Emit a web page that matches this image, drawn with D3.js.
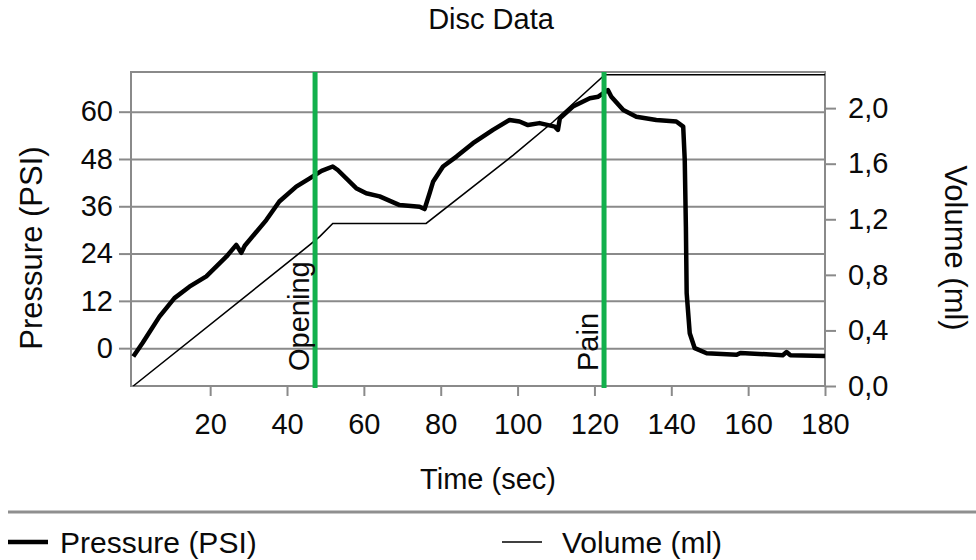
<!DOCTYPE html>
<html>
<head>
<meta charset="utf-8">
<script src="https://cdn.jsdelivr.net/npm/d3@7"></script>
<style>
  body { margin: 0; background: #fff; }
  text { font-family: "Liberation Sans", Arial, sans-serif; fill: #0a0a0a; }
</style>
</head>
<body>
<script>
var width = 976,
    height = 560;

// pressure trace (sec, PSI)
var pressureTime = [0, 2.4, 6.8, 10.7, 14.6, 19, 24.2, 26.8, 28.1, 29, 34.6, 38, 42.4, 45.9, 49, 51.9, 53.2, 58, 60.6, 64.1, 69.3, 74.5, 75.8, 77.1, 78, 80.6, 84.1, 88.4, 93.6, 97.9, 100.5, 102.7, 105.7, 109.7, 110.5, 111, 114.4, 118.8, 121, 123.5, 124.4, 127.5, 130.9, 136.1, 141.3, 143.1, 143.5, 143.8, 144, 144.8, 146.1, 149.2, 157, 158, 169, 170, 171, 180];
var pressure = [-2.1, 1.3, 8, 12.7, 15.6, 18.2, 23.2, 26.2, 24.2, 26, 32.5, 37.2, 41, 43.1, 45, 46.1, 45.2, 40.6, 39.3, 38.5, 36.3, 35.9, 35.3, 39.3, 42.2, 46.1, 48.6, 52, 55.4, 57.9, 57.5, 56.6, 57.1, 56.2, 55.4, 58.3, 61.3, 63.4, 63.8, 65.5, 63.8, 60.4, 58.7, 57.9, 57.5, 56.2, 47.8, 30.8, 14, 3.8, 0, -1.3, -1.7, -1.2, -1.8, -1, -1.8, -2];

// volume trace (sec, ml)
var volumeTime = [0, 45.9, 48.5, 51.9, 76.2, 98.8, 109.2, 122.7, 180];
var volume = [0, 1.015, 1.075, 1.17, 1.17, 1.66, 1.9, 2.24, 2.24];

var timeTicks = [20, 40, 60, 80, 100, 120, 140, 160, 180];
var pressureTicks = [0, 12, 24, 36, 48, 60];
var volumeTicks = [0, 0.4, 0.8, 1.2, 1.6, 2.0];

var markers = [{t: 47.3, label: 'Opening'}, {t: 122.5, label: 'Pain'}];

var plotL = 131, plotR = 825, plotT = 72, plotB = 386;

var svg = d3.select('body')
  .append('svg')
    .attr('width', width)
    .attr('height', height)

svg.append('rect')
    .attr('width', width)
    .attr('height', height)
    .attr('fill', '#fff')

var x = d3.scaleLinear().domain([-0.6, 180]).range([plotL, plotR]);
var yP = d3.scaleLinear().domain([-9.6, 70.07]).range([plotB, plotT]);
var yV = d3.scaleLinear().domain([0, 2.26]).range([plotB, plotT]);

// horizontal gridlines
svg.append('g')
    .attr('transform', 'translate(' + plotL + ',0)')
    .call(d3.axisLeft(yP).tickValues(pressureTicks).tickSize(-(plotR - plotL)).tickFormat(''))
    .call(function(g){ g.select('.domain').remove(); })
    .selectAll('line')
      .attr('stroke', '#8a8a8a')
      .attr('stroke-width', 2)

// frame
svg.append('rect')
    .attr('x', plotL)
    .attr('y', plotT)
    .attr('width', plotR - plotL)
    .attr('height', plotB - plotT)
    .attr('fill', 'none')
    .attr('stroke', '#8a8a8a')
    .attr('stroke-width', 2)

function styleAxis(g){
  g.select('.domain').remove();
  g.selectAll('line').attr('stroke', '#8a8a8a').attr('stroke-width', 2);
  g.selectAll('text').attr('font-size', 29).attr('fill', '#0a0a0a')
    .attr('font-family', '"Liberation Sans", Arial, sans-serif');
}

svg.append('g')
    .attr('transform', 'translate(' + plotL + ',0)')
    .call(d3.axisLeft(yP).tickValues(pressureTicks).tickSize(12).tickPadding(6))
    .call(styleAxis)

svg.append('g')
    .attr('transform', 'translate(' + plotR + ',0)')
    .call(d3.axisRight(yV).tickValues(volumeTicks).tickSize(11).tickPadding(12)
      .tickFormat(function(d){ return d.toFixed(1).replace('.', ','); }))
    .call(styleAxis)

svg.append('g')
    .attr('transform', 'translate(0,' + plotB + ')')
    .call(d3.axisBottom(x).tickValues(timeTicks).tickSize(10).tickPadding(17))
    .call(styleAxis)

// lines
var pLine = d3.line()
    .x(function(d, i){ return x(pressureTime[i]); })
    .y(function(d){ return yP(d); });

var vLine = d3.line()
    .x(function(d, i){ return x(volumeTime[i]); })
    .y(function(d){ return yV(d); });

svg.append('path')
    .datum(volume)
    .attr('d', vLine)
    .attr('fill', 'none')
    .attr('stroke', '#000')
    .attr('stroke-width', 1.6)

svg.append('path')
    .datum(pressure)
    .attr('d', pLine)
    .attr('fill', 'none')
    .attr('stroke', '#000')
    .attr('stroke-width', 4.5)
    .attr('stroke-linejoin', 'round')

// event markers
var mk = svg.selectAll('.marker')
    .data(markers).enter()
  .append('g')
    .attr('class', 'marker')

mk.append('line')
    .attr('x1', function(d){ return x(d.t); })
    .attr('x2', function(d){ return x(d.t); })
    .attr('y1', plotT)
    .attr('y2', plotB + 2)
    .attr('stroke', '#12b04c')
    .attr('stroke-width', 5)

mk.append('text')
    .attr('transform', function(d){ return 'translate(' + (x(d.t) - 6) + ',' + (plotB - 15) + ') rotate(-90)'; })
    .attr('font-size', 29)
    .text(function(d){ return d.label; })

// titles
svg.append('text')
    .attr('x', 491)
    .attr('y', 29)
    .attr('text-anchor', 'middle')
    .attr('font-size', 29)
    .text('Disc Data')

svg.append('text')
    .attr('transform', 'translate(42,248) rotate(-90)')
    .attr('text-anchor', 'middle')
    .attr('font-size', 31)
    .text('Pressure (PSI)')

svg.append('text')
    .attr('transform', 'translate(945,248) rotate(90)')
    .attr('text-anchor', 'middle')
    .attr('font-size', 31)
    .text('Volume (ml)')

svg.append('text')
    .attr('x', 488)
    .attr('y', 489)
    .attr('text-anchor', 'middle')
    .attr('font-size', 29)
    .text('Time (sec)')

// legend
svg.append('line')
    .attr('x1', 8)
    .attr('x2', 976)
    .attr('y1', 512)
    .attr('y2', 512)
    .attr('stroke', '#8f8f8f')
    .attr('stroke-width', 3)

var legend = [{label: 'Pressure (PSI)', w: 4.5, x: 8}, {label: 'Volume (ml)', w: 1.6, x: 502}];

var lg = svg.selectAll('.legend')
    .data(legend).enter()
  .append('g')
    .attr('class', 'legend')
    .attr('transform', function(d){ return 'translate(' + d.x + ',542)'; })

lg.append('line')
    .attr('x1', 0)
    .attr('x2', 40)
    .attr('stroke', '#000')
    .attr('stroke-width', function(d){ return d.w; })

lg.append('text')
    .attr('x', function(d, i){ return i ? 60 : 52; })
    .attr('y', 11)
    .attr('font-size', 30)
    .text(function(d){ return d.label; })
</script>
</body>
</html>
